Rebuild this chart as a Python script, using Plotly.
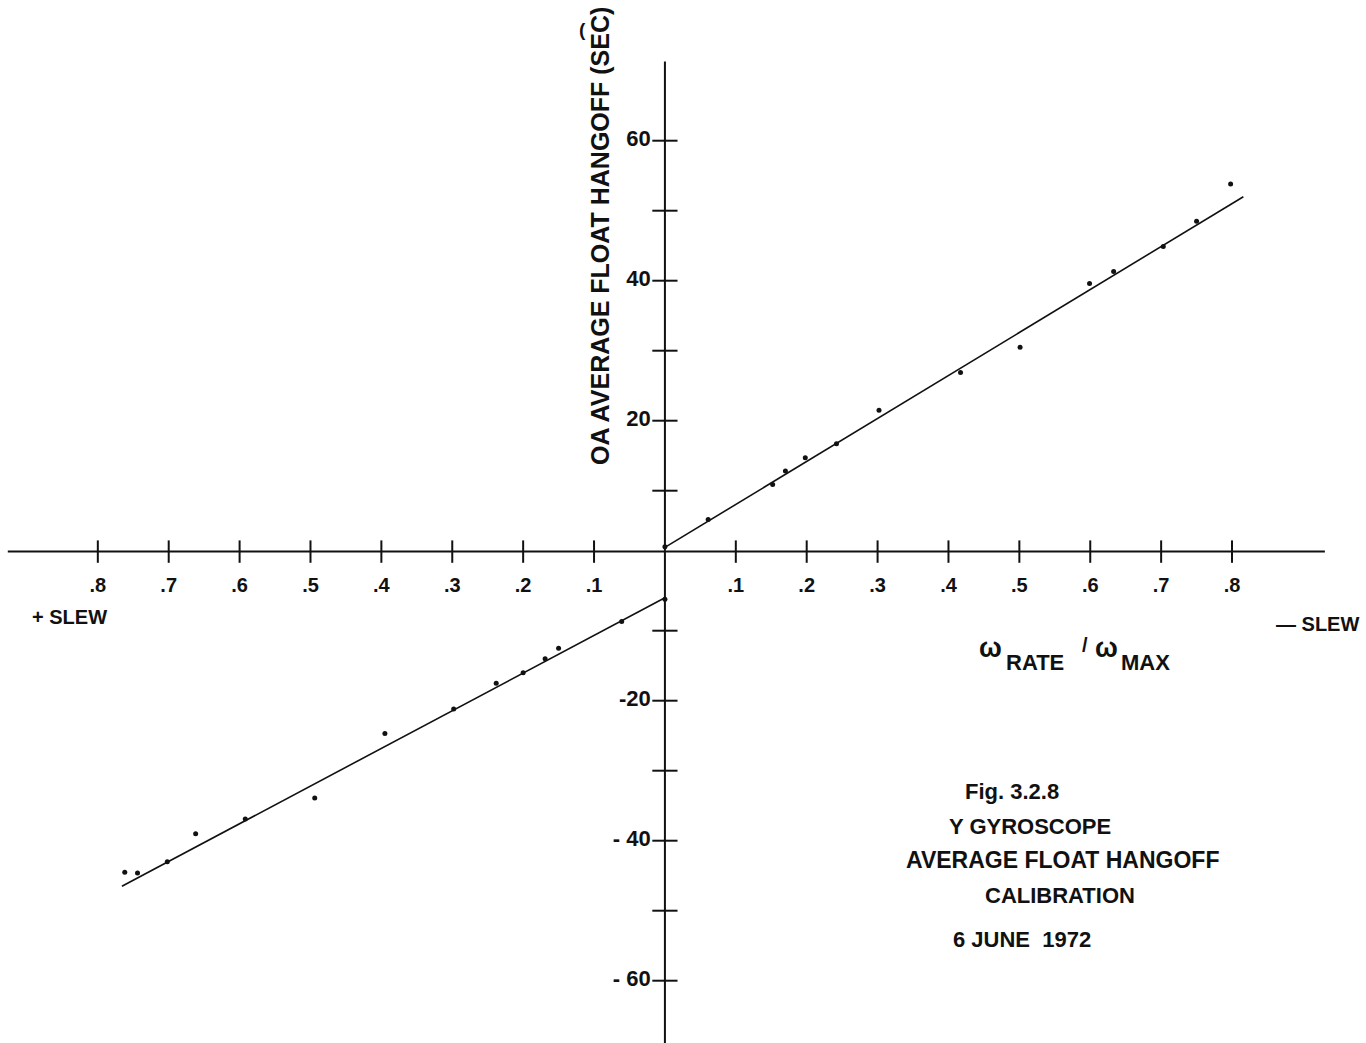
import plotly.graph_objects as go

# ---------------- data ----------------
# -SLEW side (right, positive x)
neg_slew_x = [0.0, 0.061, 0.152, 0.170, 0.198, 0.242, 0.302, 0.417, 0.501, 0.599, 0.633, 0.703, 0.750, 0.798]
neg_slew_y = [2.0, 5.9, 10.9, 12.8, 14.7, 16.7, 21.5, 26.9, 30.5, 39.6, 41.3, 44.9, 48.5, 53.8]
# +SLEW side (left, negative x)
pos_slew_x = [0.0, -0.061, -0.150, -0.169, -0.200, -0.238, -0.298, -0.395, -0.494, -0.592, -0.662, -0.702, -0.744, -0.762]
pos_slew_y = [-5.5, -8.7, -12.5, -14.0, -16.0, -17.5, -21.2, -24.7, -33.9, -36.9, -39.0, -43.0, -44.6, -44.5]
# hand-drawn fit lines (end points)
fit_neg_x = [0.0, 0.816]
fit_neg_y = [1.9, 52.0]
fit_pos_x = [0.0, -0.766]
fit_pos_y = [-5.3, -46.5]

# axis ticks
x_tick_vals = [-0.8, -0.7, -0.6, -0.5, -0.4, -0.3, -0.2, -0.1, 0.1, 0.2, 0.3, 0.4, 0.5, 0.6, 0.7, 0.8]
x_tick_text = [".8", ".7", ".6", ".5", ".4", ".3", ".2", ".1", ".1", ".2", ".3", ".4", ".5", ".6", ".7", ".8"]
y_tick_vals = [-60, -50, -40, -30, -20, -10, 10, 20, 30, 40, 50, 60]
y_label_vals = [-60, -40, -20, 20, 40, 60]
y_label_text = ["- 60", "- 40", "-20", "20", "40", "60"]

# drawn axis extents
x_axis_extent = [-0.927, 0.931]
y_axis_extent = [-75.0, 71.3]
x_axis_level = 1.3   # the drawn horizontal axis sits slightly above zero in the original

W, H = 1366, 1043
X_RANGE = [-0.938, 0.989]
Y_RANGE = [-68.9, 80.1]
FONT = "Liberation Sans"
INK = "#111111"

fig = go.Figure()

# axes lines
fig.add_trace(go.Scatter(x=x_axis_extent, y=[x_axis_level, x_axis_level], mode="lines",
                         line=dict(color=INK, width=2), hoverinfo="skip", showlegend=False))
fig.add_trace(go.Scatter(x=[0, 0], y=y_axis_extent, mode="lines",
                         line=dict(color=INK, width=2), hoverinfo="skip", showlegend=False))
# tick marks
fig.add_trace(go.Scatter(x=x_tick_vals, y=[x_axis_level] * len(x_tick_vals), mode="markers",
                         marker=dict(symbol="line-ns", size=16, line=dict(color=INK, width=2)),
                         hoverinfo="skip", showlegend=False))
fig.add_trace(go.Scatter(x=[0] * len(y_tick_vals), y=y_tick_vals, mode="markers",
                         marker=dict(symbol="line-ew", size=18, line=dict(color=INK, width=2)),
                         hoverinfo="skip", showlegend=False))
# tick labels
fig.add_trace(go.Scatter(x=x_tick_vals, y=[-3.8] * len(x_tick_vals), mode="text",
                         text=x_tick_text, textposition="middle center",
                         textfont=dict(family=FONT, size=20, color=INK, weight="bold"),
                         hoverinfo="skip", showlegend=False))
fig.add_trace(go.Scatter(x=[-0.02] * len(y_label_vals), y=y_label_vals, mode="text",
                         text=y_label_text, textposition="middle left",
                         textfont=dict(family=FONT, size=22, color=INK, weight="bold"),
                         hoverinfo="skip", showlegend=False))

# fit lines
for fx, fy in [(fit_neg_x, fit_neg_y), (fit_pos_x, fit_pos_y)]:
    fig.add_trace(go.Scatter(x=fx, y=fy, mode="lines", line=dict(color=INK, width=1.6),
                             hoverinfo="skip", showlegend=False))
# data points
fig.add_trace(go.Scatter(x=neg_slew_x, y=neg_slew_y, mode="markers", name="- SLEW",
                         marker=dict(color=INK, size=5), showlegend=False))
fig.add_trace(go.Scatter(x=pos_slew_x, y=pos_slew_y, mode="markers", name="+ SLEW",
                         marker=dict(color=INK, size=5), showlegend=False))


def ann(text, px, py, size=19, xanchor="center", angle=0):
    fig.add_annotation(text=text, x=px / W, y=1 - py / H, xref="paper", yref="paper",
                       xanchor=xanchor, yanchor="middle", showarrow=False, textangle=angle,
                       font=dict(family=FONT, size=size, color=INK, weight="bold"))


ann("OA AVERAGE FLOAT HANGOFF (SEC)", 600, 236, size=25, angle=-90)
ann("(", 582, 30, size=19)
ann("+ SLEW", 30, 617, size=20, xanchor="left")
ann("— SLEW", 1361, 624, size=20, xanchor="right")
# omega-rate / omega-max label
ann("ω", 990, 648, size=27)
ann("RATE", 1004, 662, size=22, xanchor="left")
ann("/", 1085, 645, size=20)
ann("ω", 1106, 648, size=27)
ann("MAX", 1119, 662, size=22, xanchor="left")
# caption
ann("Fig. 3.2.8", 1012, 791, size=22)
ann("Y GYROSCOPE", 1030, 826, size=22)
ann("AVERAGE FLOAT HANGOFF", 1062, 860, size=23)
ann("CALIBRATION", 1060, 895, size=22)
ann("6 JUNE  1972", 1022, 939, size=22)

fig.update_layout(
    width=W, height=H,
    margin=dict(l=0, r=0, t=0, b=0),
    paper_bgcolor="white", plot_bgcolor="white",
    xaxis=dict(range=X_RANGE, visible=False, fixedrange=True),
    yaxis=dict(range=Y_RANGE, visible=False, fixedrange=True),
    showlegend=False,
)

fig.write_html("out.html")
